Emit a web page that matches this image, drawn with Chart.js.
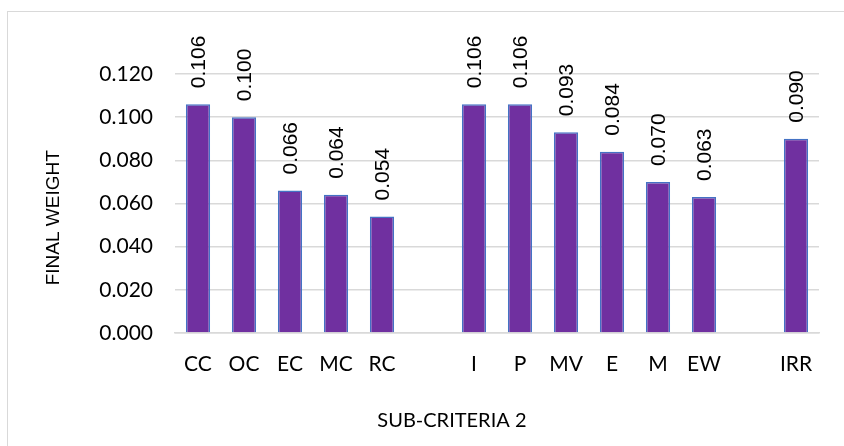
<!DOCTYPE html>
<html>
<head>
<meta charset="utf-8">
<script src="https://cdn.jsdelivr.net/npm/chart.js@4/dist/chart.umd.min.js"></script>
<style>
  html, body { margin: 0; padding: 0; background: #ffffff; }
  #wrap { position: relative; width: 844px; height: 446px; overflow: hidden; }
  #frame { position: absolute; left: 7px; top: 11px; width: 900px; height: 500px; border: 1px solid #d9d9d9; box-sizing: border-box; pointer-events: none; }
  canvas { position: absolute; left: 0; top: 0; }
</style>
</head>
<body>
<div id="wrap">
  <div id="frame"></div>
  <canvas id="c" width="844" height="446"></canvas>
</div>
<script>
const categories = ['CC', 'OC', 'EC', 'MC', 'RC', '', 'I', 'P', 'MV', 'E', 'M', 'EW', '', 'IRR'];
const finalWeight = [0.106, 0.100, 0.066, 0.064, 0.054, null, 0.106, 0.106, 0.093, 0.084, 0.070, 0.063, null, 0.090];
const yTicks = [0.000, 0.020, 0.040, 0.060, 0.080, 0.100, 0.120];
const xTitle = 'SUB-CRITERIA 2';
const yTitle = 'FINAL WEIGHT';

const labelPlugin = {
  id: 'valueLabels',
  afterDatasetsDraw(chart) {
    const ctx = chart.ctx;
    const meta = chart.getDatasetMeta(0);
    ctx.save();
    ctx.fillStyle = '#000000';
    ctx.font = '21px "Liberation Sans", Arial, sans-serif';
    ctx.textAlign = 'left';
    ctx.textBaseline = 'middle';
    meta.data.forEach((bar, i) => {
      const v = finalWeight[i];
      if (v === null || v === undefined) return;
      ctx.save();
      ctx.translate(bar.x + 1, bar.y - 16);
      ctx.rotate(-Math.PI / 2);
      ctx.fillText(v.toFixed(3), 0, 0);
      ctx.restore();
    });
    ctx.restore();
  }
};

const titlePlugin = {
  id: 'axisTitles',
  afterDraw(chart) {
    const ctx = chart.ctx;
    const a = chart.chartArea;
    ctx.save();
    ctx.fillStyle = '#000000';
    ctx.textAlign = 'center';
    ctx.textBaseline = 'middle';
    ctx.font = '20px Lato, "Open Sans", sans-serif';
    ctx.fillText(xTitle, a.left + (a.right - a.left) * 0.43, a.bottom + 88);
    ctx.font = '19px "Liberation Sans", Arial, sans-serif';
    ctx.save();
    ctx.translate(a.left - 121, a.top + (a.bottom - a.top) * 0.555);
    ctx.rotate(-Math.PI / 2);
    ctx.fillText(yTitle, 0, 0);
    ctx.restore();
    ctx.restore();
  }
};

new Chart(document.getElementById('c'), {
  type: 'bar',
  data: {
    labels: categories,
    datasets: [{
      data: finalWeight,
      backgroundColor: '#7030A0',
      borderColor: '#4472C4',
      borderWidth: 1.5,
      categoryPercentage: 1.0,
      barPercentage: 0.526
    }]
  },
  options: {
    responsive: false,
    animation: false,
    devicePixelRatio: 1,
    layout: { padding: { top: 74, right: 25, left: 0, bottom: 0 } },
    plugins: {
      legend: { display: false },
      tooltip: { enabled: false }
    },
    scales: {
      x: {
        grid: { display: false, drawTicks: false },
        border: { display: true, color: '#d9d9d9', width: 1.5 },
        ticks: {
          color: '#000000',
          font: { family: 'Lato, "Open Sans", sans-serif', size: 21 },
          padding: 19,
          maxRotation: 0,
          autoSkip: false
        },
        afterFit(scale) { scale.height = 113; }
      },
      y: {
        min: 0,
        max: 0.12,
        afterBuildTicks(scale) { scale.ticks = yTicks.map(v => ({ value: v })); },
        grid: { color: '#d9d9d9', lineWidth: 1.5, drawTicks: false },
        border: { display: false },
        ticks: {
          color: '#000000',
          font: { family: 'Lato, "Open Sans", sans-serif', size: 21 },
          padding: 22,
          callback: (v) => Number(v).toFixed(3)
        },
        afterFit(scale) { scale.width = 175; }
      }
    }
  },
  plugins: [labelPlugin, titlePlugin]
});
</script>
</body>
</html>
